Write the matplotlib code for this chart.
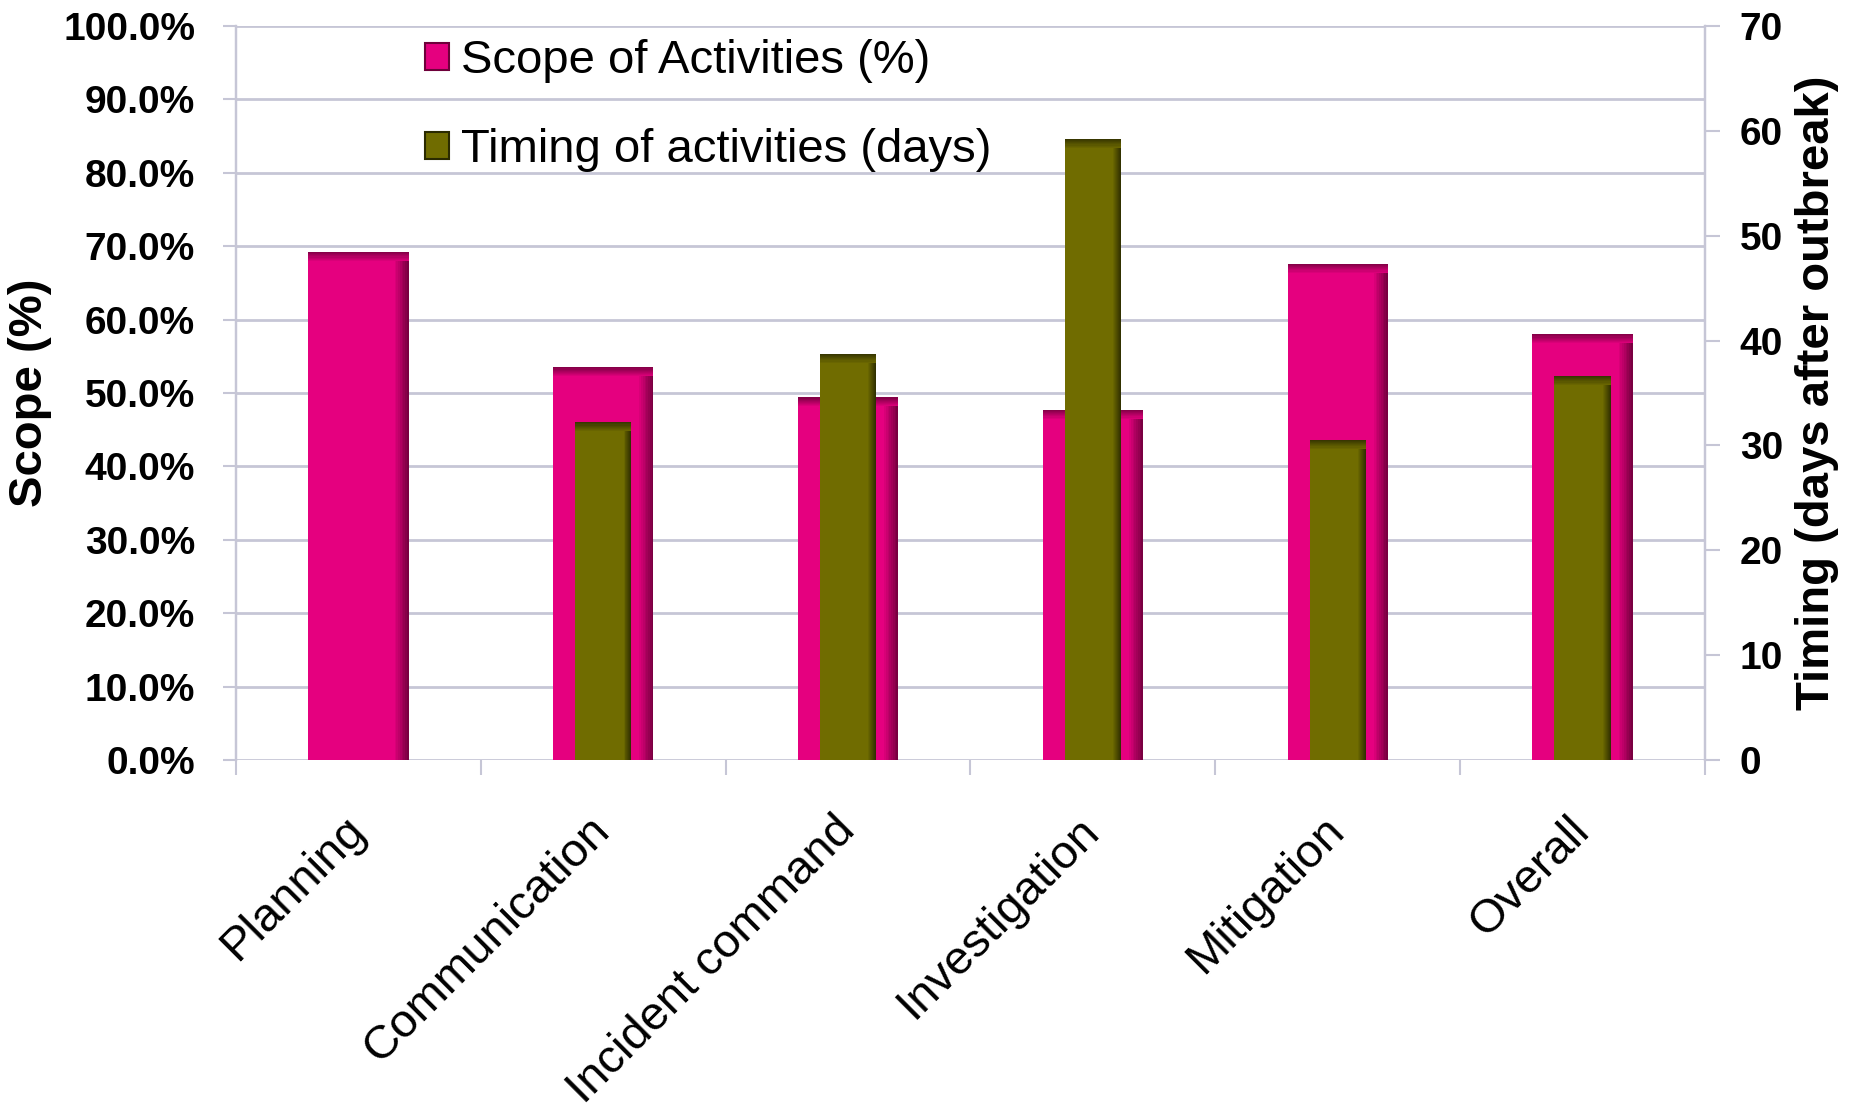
import numpy as np
import matplotlib
matplotlib.use('Agg')
import matplotlib.pyplot as plt
from matplotlib.ticker import PercentFormatter, FixedLocator
from matplotlib.patches import Patch
from matplotlib.colors import to_rgb

plt.rcParams['font.family'] = ['Liberation Sans', 'DejaVu Sans']

# data
categories = ['Planning', 'Communication', 'Incident command', 'Investigation', 'Mitigation', 'Overall']
scope_pct = [0.692, 0.535, 0.494, 0.477, 0.676, 0.580]
timing_days = [np.nan, 32.2, 38.7, 59.2, 30.5, 36.6]

pink, pink_dark = '#E5007F', '#6E003A'
olive, olive_dark = '#706C00', '#2A2A00'
grid_col = '#C6C6D6'


def mix(c1, c2, t):
    a, b = np.array(to_rgb(c1)), np.array(to_rgb(c2))
    return tuple(a + (b - a) * t)


def bevel_bars(ax, xs, heights, width, color, dark, top_frac, n=8):
    # flat bar plus darker gradient along the right and top edges
    xs = np.asarray(xs, float)
    hs = np.asarray(heights, float)
    ok = ~np.isnan(hs)
    xs, hs = xs[ok], hs[ok]
    ax.bar(xs, hs, width, color=color, zorder=2)
    sw = width * 0.14
    for k in range(n):
        f = 1 - k / n
        c = mix(color, dark, (k + 1) / n * 0.9)
        ax.bar(xs + width / 2 - sw * f, hs, sw * f, align='edge', color=c, lw=0, zorder=2)
    for k in range(n):
        f = 1 - k / n
        c = mix(color, dark, (k + 1) / n * 0.8)
        ax.bar(xs, top_frac * f, width, bottom=hs - top_frac * f, color=c, lw=0, zorder=2)


fig = plt.figure(figsize=(18.54, 11.1), dpi=100)
ax = fig.add_axes([0.1273, 0.3153, 0.7923, 0.6613])
ax2 = ax.twinx()

x = np.arange(len(categories))
bevel_bars(ax, x, scope_pct, 0.41, pink, pink_dark, 0.012)
bevel_bars(ax2, x, timing_days, 0.23, olive, olive_dark, 0.8)

ax.set_xlim(-0.5, len(categories) - 0.5)
ax.set_ylim(0, 1.0)
ax2.set_ylim(0, 70)
ax.set_yticks(np.arange(0, 1.01, 0.1))
ax.yaxis.set_major_formatter(PercentFormatter(1.0, decimals=1))
ax2.set_yticks(np.arange(0, 71, 10))

ax.set_axisbelow(True)
ax.yaxis.grid(True, color=grid_col, lw=2)

for a in (ax, ax2):
    for s in ('top', 'bottom'):
        a.spines[s].set_visible(False)
    for s in ('left', 'right'):
        a.spines[s].set_color(grid_col)
        a.spines[s].set_linewidth(1.6)

ax.tick_params(axis='y', length=9.5, width=1.5, color=grid_col, pad=20, labelsize=28)
ax2.tick_params(axis='y', length=11, width=1.5, color=grid_col, pad=14, labelsize=28)
for lab in ax.get_yticklabels() + ax2.get_yticklabels():
    lab.set_fontweight('bold')

ax.set_xticks(x)
ax.set_xticklabels(categories, rotation=45, ha='right', va='center',
                   rotation_mode='anchor', fontsize=34)
ax.tick_params(axis='x', which='major', length=0, pad=46)
ax.xaxis.set_minor_locator(FixedLocator(np.arange(-0.5, len(categories), 1.0)))
ax.tick_params(axis='x', which='minor', length=11, width=1.5, color=grid_col)

ax.set_ylabel('Scope (%)', fontsize=34, fontweight='bold')
ax.yaxis.set_label_coords(-0.125, 0.5)
ax2.set_ylabel('Timing (days after outbreak)', fontsize=34, fontweight='bold', rotation=90)
ax2.yaxis.set_label_coords(1.061, 0.5)

handles = [Patch(facecolor=pink, edgecolor=pink_dark, lw=1.5),
           Patch(facecolor=olive, edgecolor=olive_dark, lw=1.5)]
ax2.legend(handles, ['Scope of Activities (%)', 'Timing of activities (days)'],
           loc='upper left', bbox_to_anchor=(0.1, 1.04), frameon=False, fontsize=34,
           handlelength=0.5, handleheight=0.5, handletextpad=0.25, labelspacing=0.95)

fig.savefig('out.png', dpi=100)
